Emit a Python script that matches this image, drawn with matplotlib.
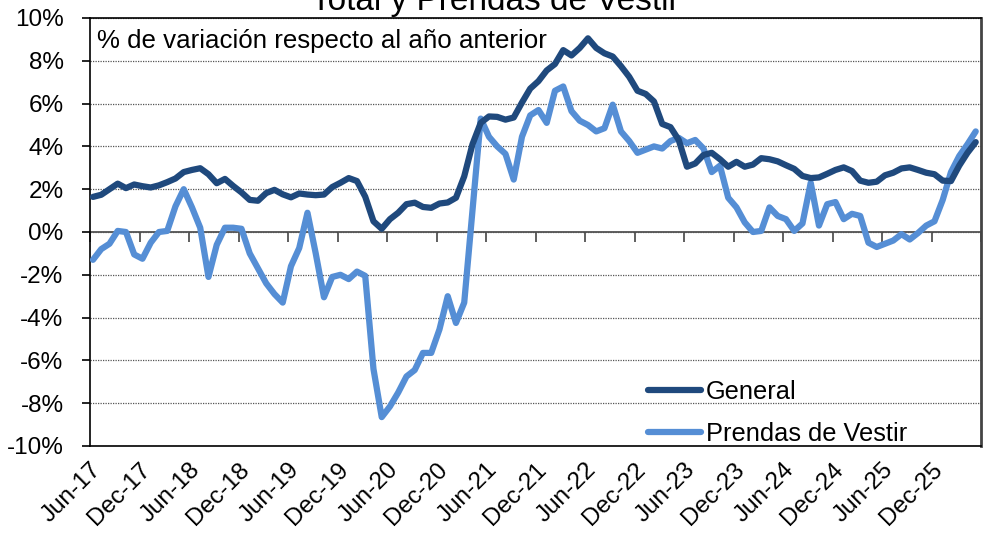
import numpy as np
import matplotlib
matplotlib.use("Agg")
import matplotlib.pyplot as plt
from matplotlib.lines import Line2D

# monthly year-on-year change (%), Jun-17 onwards
general = [1.64, 1.74, 2.0, 2.26, 2.05, 2.22, 2.14, 2.08, 2.18, 2.33,
           2.5, 2.8, 2.9, 2.98, 2.7, 2.28, 2.48, 2.15, 1.85, 1.5,
           1.46, 1.82, 1.97, 1.76, 1.62, 1.8, 1.75, 1.72, 1.75, 2.1,
           2.3, 2.52, 2.38, 1.65, 0.5, 0.15, 0.6, 0.9, 1.3, 1.37,
           1.17, 1.13, 1.33, 1.38, 1.6, 2.6, 4.1, 5.1, 5.4, 5.38,
           5.25, 5.35, 6.05, 6.7, 7.05, 7.55, 7.85, 8.5, 8.25, 8.6,
           9.05, 8.6, 8.35, 8.2, 7.75, 7.25, 6.6, 6.45, 6.1, 5.05,
           4.9, 4.3, 3.05, 3.2, 3.6, 3.7, 3.4, 3.05, 3.28, 3.05,
           3.15, 3.45, 3.4, 3.3, 3.12, 2.95, 2.62, 2.52, 2.55, 2.72,
           2.9, 3.02, 2.85, 2.4, 2.3, 2.35, 2.65, 2.77, 2.97, 3.02,
           2.9, 2.77, 2.7, 2.4, 2.38, 3.1, 3.7, 4.2]

prendas = [-1.3, -0.8, -0.55, 0.05, 0.0, -1.05, -1.25, -0.5, 0.0, 0.05,
           1.2, 2.0, 1.15, 0.2, -2.1, -0.6, 0.2, 0.2, 0.15, -1.0,
           -1.7, -2.4, -2.9, -3.3, -1.6, -0.75, 0.9, -1.0, -3.05, -2.1,
           -2.0, -2.2, -1.85, -2.05, -6.4, -8.65, -8.15, -7.5, -6.75, -6.45,
           -5.65, -5.65, -4.55, -3.0, -4.25, -3.3, 1.0, 5.3, 4.45, 4.0,
           3.65, 2.45, 4.45, 5.45, 5.7, 5.1, 6.6, 6.8, 5.65, 5.2,
           5.0, 4.7, 4.85, 5.95, 4.7, 4.25, 3.7, 3.85, 4.0, 3.9,
           4.25, 4.4, 4.15, 4.3, 3.9, 2.8, 3.1, 1.6, 1.15, 0.45,
           0.0, 0.05, 1.15, 0.75, 0.6, 0.05, 0.4, 2.3, 0.3, 1.3,
           1.4, 0.6, 0.85, 0.75, -0.5, -0.7, -0.55, -0.4, -0.1, -0.35,
           -0.05, 0.3, 0.5, 1.5, 2.8, 3.55, 4.1, 4.7]

tick_labels = ["Jun-17", "Dec-17", "Jun-18", "Dec-18", "Jun-19", "Dec-19",
               "Jun-20", "Dec-20", "Jun-21", "Dec-21", "Jun-22", "Dec-22",
               "Jun-23", "Dec-23", "Jun-24", "Dec-24", "Jun-25", "Dec-25"]
y_ticks = [-10, -8, -6, -4, -2, 0, 2, 4, 6, 8, 10]

dark = "#1F497D"
light = "#558ED5"
font = "Liberation Sans"
plt.rcParams["font.family"] = [font, "DejaVu Sans"]

x = np.arange(len(general))
start = -0.36  # axis starts a little before the first observation

fig = plt.figure(figsize=(9.84, 5.42), dpi=100)
ax = fig.add_axes([90 / 984, 1 - 446 / 542, 891 / 984, 428 / 542])

ax.plot(x, prendas, color=light, lw=4.5, solid_capstyle="round", solid_joinstyle="round", zorder=3)
ax.plot(x, general, color=dark, lw=4.5, solid_capstyle="round", solid_joinstyle="round", zorder=3)

ax.set_xlim(start, start + 108)
ax.set_ylim(-10, 10)

ax.set_yticks(y_ticks)
ax.set_yticklabels([f"{v}%" for v in y_ticks], fontsize=17.5)
ax.tick_params(axis="y", direction="out", length=6, width=1.2, pad=13)
ax.yaxis.grid(True, linestyle=(0, (1, 1)), color="#555555", lw=0.9)
ax.set_axisbelow(True)

ticks = start + 6 * np.arange(len(tick_labels))
ax.set_xticks(ticks)
ax.set_xticklabels(tick_labels, rotation=45, ha="right", va="top",
                   rotation_mode="anchor", fontsize=17.5)
ax.tick_params(axis="x", length=0, pad=9)

# tick marks hanging below the zero line
sec = ax.secondary_xaxis(0.5)
sec.set_alignment("bottom")
sec.set_xticks(start + 6 * np.arange(len(tick_labels) + 1))
sec.set_xticklabels([])
sec.tick_params(axis="x", direction="out", length=7, width=1.2, color="#444444")
for s in sec.spines.values():
    s.set_color("#444444")
    s.set_linewidth(1.2)

for side in ["left", "top", "bottom"]:
    ax.spines[side].set_color("black")
    ax.spines[side].set_linewidth(1.2)
ax.spines["right"].set_color("#444444")
ax.spines["right"].set_linewidth(2)

ax.text(0.008, 0.93, "% de variación respecto al año anterior",
        transform=ax.transAxes, fontsize=18.6, va="baseline", ha="left")

fig.text(0.503, 1 - 10 / 542, "Total y Prendas de Vestir", fontsize=24,
         ha="center", va="baseline")

handles = [Line2D([], [], color=dark, lw=4.5, solid_capstyle="round"),
           Line2D([], [], color=light, lw=4.5, solid_capstyle="round")]
ax.legend(handles, ["General", "Prendas de Vestir"], loc="lower left",
          bbox_to_anchor=(0.626, 0.0), frameon=False, fontsize=18.3,
          handlelength=2.1, handletextpad=0.2, labelspacing=0.72,
          borderpad=0, borderaxespad=0)

fig.savefig("out.png", dpi=100, facecolor="white")
